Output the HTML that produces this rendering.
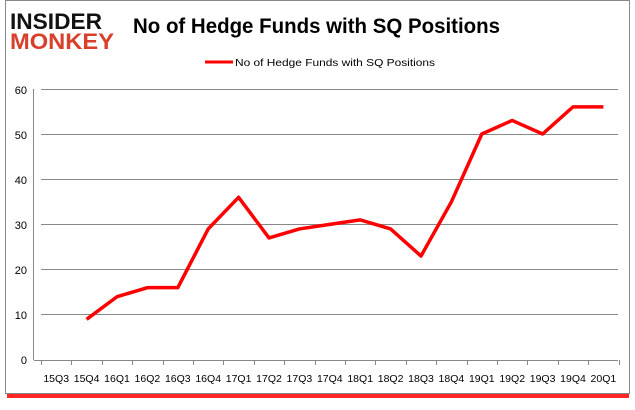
<!DOCTYPE html><html><head><style>body{margin:0;background:#fff;width:635px;height:405px;overflow:hidden;font-family:"Liberation Sans",sans-serif}</style></head><body>
<svg width="635" height="405" xmlns="http://www.w3.org/2000/svg" font-family="Liberation Sans, sans-serif">
<rect x="7" y="392" width="622" height="6" fill="#f00" opacity="0.85"/>
<rect x="5.5" y="0.5" width="624" height="393" fill="#fff" stroke="#888"/>
<text x="10" y="29" font-size="22" font-weight="bold" fill="#111" textLength="92" lengthAdjust="spacingAndGlyphs">INSIDER</text>
<text x="10" y="49" font-size="22" font-weight="bold" fill="#d9402b" textLength="104" lengthAdjust="spacingAndGlyphs">MONKEY</text>
<text x="133" y="33" font-size="21" font-weight="bold" fill="#000" textLength="367" lengthAdjust="spacingAndGlyphs">No of Hedge Funds with SQ Positions</text>
<line x1="205" y1="62" x2="233" y2="62" stroke="#f00" stroke-width="3"/>
<text x="235" y="66" font-size="10.5" fill="#000" textLength="200" lengthAdjust="spacingAndGlyphs">No of Hedge Funds with SQ Positions</text>
<g stroke="#888" stroke-width="1">
<line x1="41" y1="89.5" x2="618" y2="89.5"/><line x1="41" y1="134.5" x2="618" y2="134.5"/><line x1="41" y1="179.5" x2="618" y2="179.5"/><line x1="41" y1="224.5" x2="618" y2="224.5"/><line x1="41" y1="269.5" x2="618" y2="269.5"/><line x1="41" y1="314.5" x2="618" y2="314.5"/><line x1="34" y1="360.5" x2="618" y2="360.5"/>
<line x1="33.5" y1="89" x2="33.5" y2="360"/>
</g>
<g font-size="11" fill="#000" text-anchor="end"><text x="27" y="94">60</text><text x="27" y="139">50</text><text x="27" y="184">40</text><text x="27" y="229">30</text><text x="27" y="274">20</text><text x="27" y="319">10</text><text x="27" y="364">0</text></g>
<g id="t" stroke="#888"></g>
<g font-size="10.5" fill="#000" text-anchor="middle" id="lx"></g>
<polyline id="pl" fill="none" stroke="#f00" stroke-width="3.5" stroke-linejoin="round" points=""/>
</svg>
<script>
var L=["15Q3","15Q4","16Q1","16Q2","16Q3","16Q4","17Q1","17Q2","17Q3","17Q4","18Q1","18Q2","18Q3","18Q4","19Q1","19Q2","19Q3","19Q4","20Q1"];
var D=[null,9,14,16,16,29,36,27,29,30,31,29,23,35,50,53,50,56,56];
var x0=41,w=30.4,ns="http://www.w3.org/2000/svg",t=document.getElementById('t'),lx=document.getElementById('lx'),pts=[];
for(var i=0;i<=19;i++){var l=document.createElementNS(ns,'line');var x=Math.round(x0+i*w)+.5;l.setAttribute('x1',x);l.setAttribute('x2',x);l.setAttribute('y1',360);l.setAttribute('y2',365);t.appendChild(l);}
for(var i=0;i<19;i++){var c=x0+(i+.5)*w;var tx=document.createElementNS(ns,'text');tx.setAttribute('x',c);tx.setAttribute('y',382);tx.textContent=L[i];lx.appendChild(tx);if(D[i]!=null)pts.push(c+','+(360-D[i]*4.52));}
document.getElementById('pl').setAttribute('points',pts.join(' '));
</script>
</body></html>
